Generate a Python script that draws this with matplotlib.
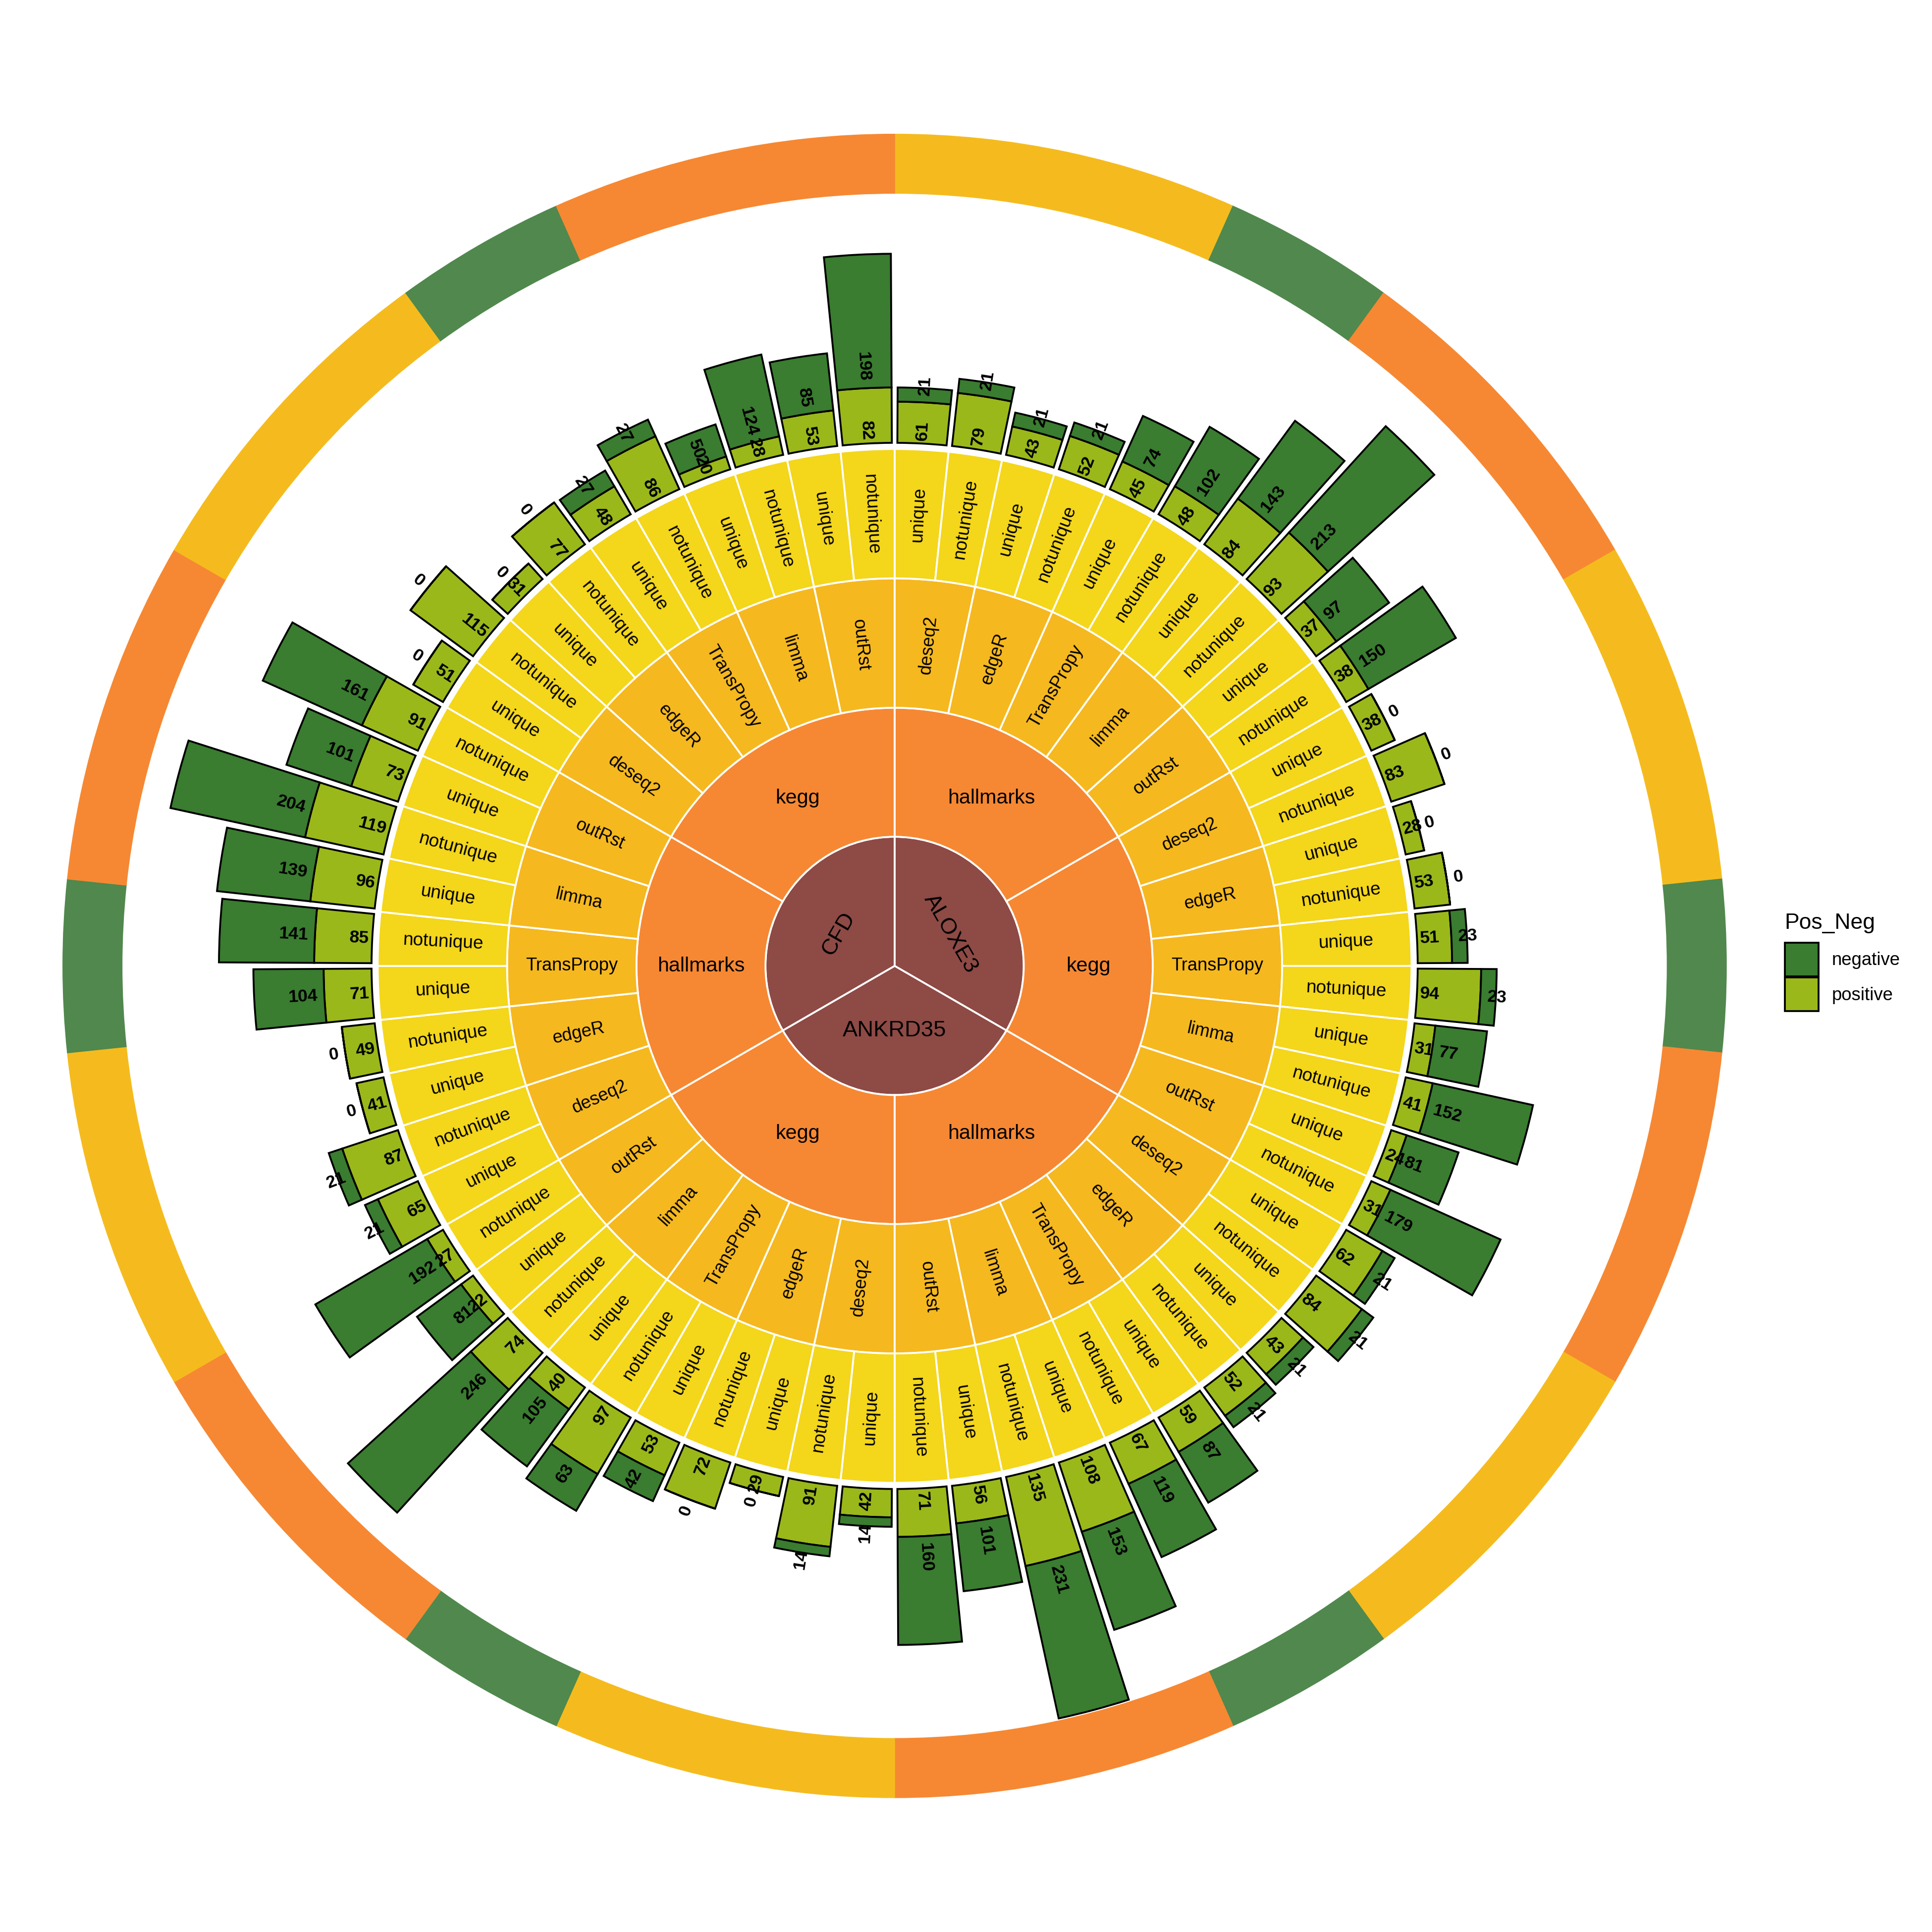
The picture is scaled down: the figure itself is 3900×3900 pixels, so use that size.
import numpy as np
import matplotlib.pyplot as plt
from matplotlib.patches import Patch

plt.rcParams['font.family'] = ['Liberation Sans', 'DejaVu Sans']

# hierarchy, clockwise from 12 o'clock
genes = ["ALOXE3", "ANKRD35", "CFD"]
gene_sets = ["hallmarks", "kegg"]
methods = ["deseq2", "edgeR", "TransPropy", "limma", "outRst"]
kinds = ["unique", "notunique"]

# counts per leaf (gene > set > method > kind)
positive = [61, 79, 43, 52, 45, 48, 84, 93, 37, 38,
            38, 83, 28, 53, 51, 94, 31, 41, 24, 31,
            62, 84, 43, 52, 59, 67, 108, 135, 56, 71,
            42, 91, 29, 72, 53, 97, 40, 74, 22, 27,
            65, 87, 41, 49, 71, 85, 96, 119, 73, 91,
            51, 115, 31, 77, 48, 86, 20, 28, 53, 82]
negative = [21, 21, 21, 21, 74, 102, 143, 213, 97, 150,
            0, 0, 0, 0, 23, 23, 77, 152, 81, 179,
            21, 21, 21, 21, 87, 119, 153, 231, 101, 160,
            14, 14, 0, 0, 42, 63, 105, 246, 81, 192,
            21, 21, 0, 0, 104, 141, 139, 204, 101, 161,
            0, 0, 0, 0, 27, 27, 50, 124, 85, 198]

# colours
c_gene = "#8E4A45"
c_set = "#F68833"
c_method = "#F5B81F"
c_leaf = "#F4D61B"
c_pos = "#9AB81A"
c_neg = "#3A7C30"
ring_col = {"deseq2": "#F5BB1E", "edgeR": "#F5BB1E", "TransPropy": "#50884D",
            "limma": "#F68833", "outRst": "#F68833"}

# radii (in image px of the 1568 preview)
R1, R2, R3, R4 = 104.8, 209.5, 314.5, 419.5
base = 424.5
scale = 0.548
ring_in, ring_out = 627, 675

n_leaf = len(genes) * len(gene_sets) * len(methods) * len(kinds)
w_leaf = 360 / n_leaf
w_method = w_leaf * len(kinds)
w_set = w_method * len(methods)
w_gene = w_set * len(gene_sets)


def rad(a):
    return np.deg2rad(a)


def radial_rot(a):
    return 90 - a if a < 180 else 270 - a


def tang_rot(a):
    r = (-a) % 360
    if 90 < r <= 270:
        r -= 180
    return r


fig = plt.figure(figsize=(13, 13), dpi=300)
ax = fig.add_axes([0.0166, 0.0536, 0.8929, 0.8929], projection='polar')
ax.set_theta_zero_location('N')
ax.set_theta_direction(-1)
ax.set_ylim(0, 700)
ax.axis('off')

wl = dict(edgecolor='white', linewidth=0.9)

# genes
for i, g in enumerate(genes):
    a = (i + 0.5) * w_gene
    ax.bar(rad(a), R1, width=rad(w_gene), bottom=0, color=c_gene, **wl)
    ax.text(rad(a), R1 / 2, g, rotation=tang_rot(a), rotation_mode='anchor',
            ha='center', va='center', fontsize=10.9)

# gene sets
k = 0
for g in genes:
    for s in gene_sets:
        a = (k + 0.5) * w_set
        ax.bar(rad(a), R2 - R1, width=rad(w_set), bottom=R1, color=c_set, **wl)
        ax.text(rad(a), (R1 + R2) / 2, s, ha='center', va='center', fontsize=9.9)
        k += 1

# methods + outer ring
k = 0
for g in genes:
    for s in gene_sets:
        for m in methods:
            a = (k + 0.5) * w_method
            ax.bar(rad(a), R3 - R2, width=rad(w_method), bottom=R2, color=c_method, **wl)
            ax.text(rad(a), (R2 + R3) / 2, m, rotation=radial_rot(a), rotation_mode='anchor',
                    ha='center', va='center', fontsize=8.7)
            ax.bar(rad(a), ring_out - ring_in, width=rad(w_method), bottom=ring_in,
                   color=ring_col[m], edgecolor=ring_col[m], linewidth=0.4)
            k += 1

# leaves + stacked bars
k = 0
for g in genes:
    for s in gene_sets:
        for m in methods:
            for kd in kinds:
                a = (k + 0.5) * w_leaf
                ax.bar(rad(a), R4 - R3, width=rad(w_leaf), bottom=R3, color=c_leaf, **wl)
                ax.text(rad(a), (R3 + R4) / 2, kd, rotation=radial_rot(a), rotation_mode='anchor',
                        ha='center', va='center', fontsize=8.9)
                p, n = positive[k], negative[k]
                ax.bar(rad(a), p * scale, width=rad(w_leaf * 0.9), bottom=base,
                       color=c_pos, edgecolor='black', linewidth=0.9)
                ax.bar(rad(a), n * scale, width=rad(w_leaf * 0.9), bottom=base + p * scale,
                       color=c_neg, edgecolor='black', linewidth=0.9)
                ha = 'left' if a < 180 else 'right'
                ax.text(rad(a), base + 2.5, str(p), rotation=radial_rot(a), rotation_mode='anchor',
                        ha=ha, va='center', fontsize=8.5, fontweight='bold')
                ax.text(rad(a), base + p * scale + 5.5, str(n), rotation=radial_rot(a),
                        rotation_mode='anchor', ha=ha, va='center', fontsize=8.5, fontweight='bold')
                k += 1

handles = [Patch(facecolor=c_neg, edgecolor='black', linewidth=0.9, label='negative'),
           Patch(facecolor=c_pos, edgecolor='black', linewidth=0.9, label='positive')]
leg = fig.legend(handles=handles, title='Pos_Neg', loc='upper left', bbox_to_anchor=(0.9238, 0.5275),
                 frameon=False, fontsize=8.75, title_fontsize=10.7, handlelength=1.87, handleheight=2.49,
                 labelspacing=0.07, handletextpad=0.72, borderpad=0, borderaxespad=0, alignment='left')
leg._legend_box.sep = 4.6  # gap between title and keys

fig.savefig('out.png', dpi=300)
